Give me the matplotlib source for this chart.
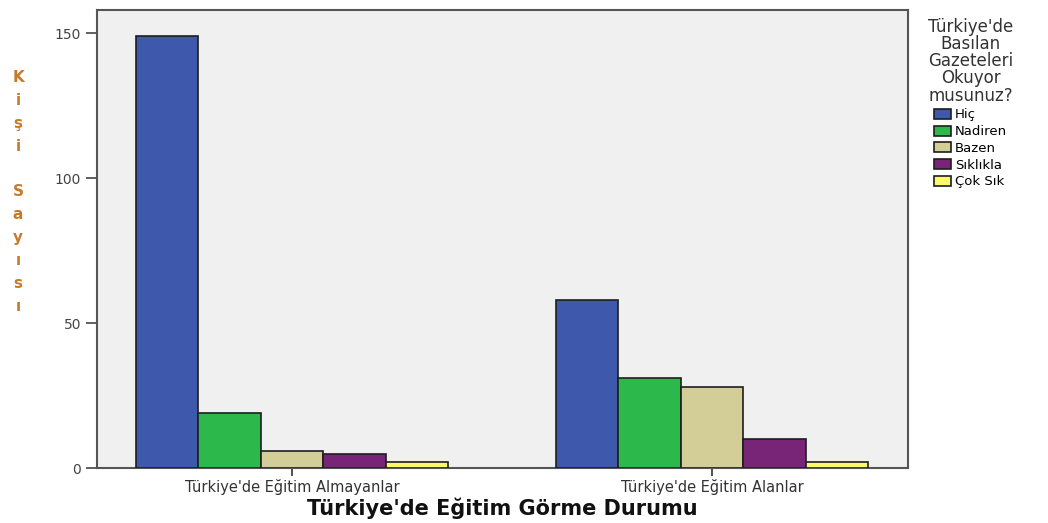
import matplotlib.pyplot as plt
import numpy as np

# veri
gruplar = ["Türkiye'de Eğitim Almayanlar", "Türkiye'de Eğitim Alanlar"]
cevaplar = ["Hiç", "Nadiren", "Bazen", "Sıklıkla", "Çok Sık"]
almayanlar = [149, 19, 6, 5, 2]
alanlar = [58, 31, 28, 10, 2]
renkler = ['#3e58ac', '#2db84b', '#d3ce97', '#782577', '#fbf869']

plt.rcParams['font.family'] = ['DejaVu Sans']

fig = plt.figure(figsize=(10.48, 5.23), dpi=100)
ax = fig.add_axes([97 / 1048, 55 / 523, 811 / 1048, 458 / 523])
ax.set_facecolor('#f0f0f0')

grup_x = np.array([0, 6.73])
degerler = np.array([almayanlar, alanlar])
for i, c in enumerate(cevaplar):
    ax.bar(grup_x + (i - 2), degerler[:, i], width=1.0, color=renkler[i],
           edgecolor='#1e1e1e', linewidth=1.2, label=c, zorder=3)

ax.set_xlim(-3.125, 9.87)
ax.set_ylim(0, 158)
ax.set_yticks([0, 50, 100, 150])
ax.set_xticks(grup_x)
ax.set_xticklabels(gruplar, fontsize=10.5, color='#222222')
ax.tick_params(axis='y', labelsize=10, colors='#444444', length=8, width=1.2)
ax.tick_params(axis='x', length=6, width=1.2, colors='#333333', pad=2)
for sp in ax.spines.values():
    sp.set_color('#555555')
    sp.set_linewidth(1.5)

fig.text(502 / 1048, 1 - 508 / 523, "Türkiye'de Eğitim Görme Durumu", fontsize=15,
         fontweight='bold', ha='center', va='center', color='#111111')

# dikey eksen etiketi harf harf
fig.text(18 / 1048, 1 - 192 / 523, "\n".join("Kişi Sayısı"), ha='center', va='center',
         fontsize=11, color='#c57a2c', linespacing=1.65, fontweight='bold')

leg = ax.legend(title="Türkiye'de\nBasılan\nGazeteleri\nOkuyor\nmusunuz?",
                loc='upper left', bbox_to_anchor=(1.018, 0.995), frameon=False,
                fontsize=9.5, title_fontsize=12, handlelength=1.3, handleheight=0.8,
                handletextpad=0.3, labelspacing=0.28, borderaxespad=0)
leg.get_title().set_multialignment('center')
leg.get_title().set_color('#333333')
leg.get_title().set_linespacing(0.95)
for h in leg.legend_handles:
    h.set_edgecolor('#1e1e1e')

fig.savefig('out.png', dpi=100)
